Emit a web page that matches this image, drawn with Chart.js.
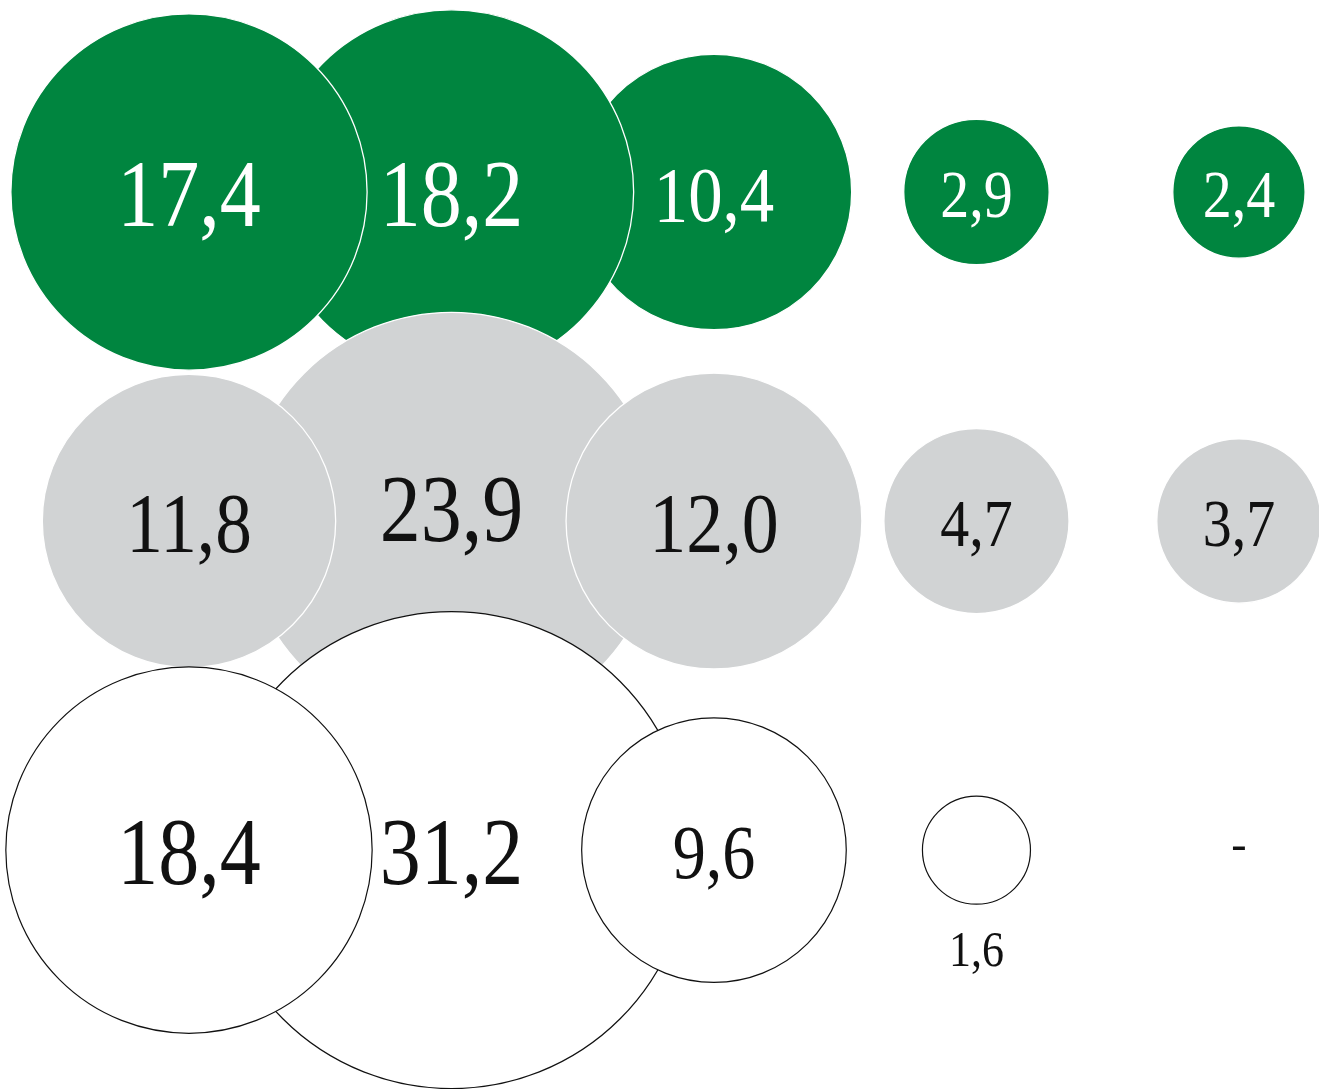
<!DOCTYPE html>
<html>
<head>
<meta charset="utf-8">
<script src="https://cdn.jsdelivr.net/npm/chart.js@4.4.1/dist/chart.umd.min.js"></script>
<style>
  html, body { margin: 0; padding: 0; background: #ffffff; overflow: hidden; }
  #wrap { position: relative; width: 1319px; height: 1089px; }
</style>
</head>
<body>
<div id="wrap"><canvas id="chart"></canvas></div>
<script>
// ---- data ----
const columns = [0, 1, 2, 3, 4];
const rows = [0, 1, 2];
const seriesGreen = [17.4, 18.2, 10.4, 2.9, 2.4];
const seriesGray  = [11.8, 23.9, 12.0, 4.7, 3.7];
const seriesWhite = [18.4, 31.2, 9.6, 1.6, null];

// ---- styling / layout (not data) ----
const RADIUS_K = 42.7;              // px per sqrt(value)
const drawOrders = [[2, 1, 0, 3, 4], [1, 0, 2, 3, 4], [1, 0, 2, 3, 4]];
const labelShift = { '1-1': -14 };  // row-col : vertical label offset (px)

function bubbleData(values, rowIdx) {
  const out = [];
  drawOrders[rowIdx].forEach(function (c) {
    const v = values[c];
    if (v === null || v === undefined) return;
    out.push({ x: columns[c], y: rows[rowIdx], r: RADIUS_K * Math.sqrt(v), v: v, col: c, row: rowIdx });
  });
  return out;
}

const fmt = function (v) { return v.toFixed(1).replace('.', ','); };
const FONT = '"Liberation Serif", "Times New Roman", serif';
const SCALE_Y = 1.15;

function drawLabel(ctx, text, x, cy, fs, color) {
  ctx.save();
  ctx.font = fs + 'px ' + FONT;
  ctx.fillStyle = color;
  ctx.textAlign = 'center';
  ctx.textBaseline = 'alphabetic';
  const h = 0.676 * fs * SCALE_Y;
  ctx.translate(x, cy + h / 2);
  ctx.scale(1, SCALE_Y);
  ctx.fillText(text, 0, 0);
  ctx.restore();
}

const labelPlugin = {
  id: 'bubbleLabels',
  afterDatasetsDraw: function (chart) {
    const ctx = chart.ctx;
    chart.data.datasets.forEach(function (ds, di) {
      const meta = chart.getDatasetMeta(di);
      meta.data.forEach(function (el, i) {
        const d = ds.data[i];
        const r = d.r;
        const key = d.row + '-' + d.col;
        const shift = (labelShift[key] || 0) + 2;
        if (r >= 60) {
          const fs = Math.max(58, Math.min(82, r * 0.5));
          drawLabel(ctx, fmt(d.v), el.x, el.y + shift, fs, ds.labelColor);
        } else {
          const fs = 44;
          const h = 0.676 * fs * SCALE_Y;
          drawLabel(ctx, fmt(d.v), el.x, el.y + r + 28 + h / 2, fs, '#111111');
        }
      });
    });
    // missing values -> dash
    const xs = chart.scales.x, ys = chart.scales.y;
    [seriesGreen, seriesGray, seriesWhite].forEach(function (arr, ri) {
      arr.forEach(function (v, c) {
        if (v === null) {
          ctx.save();
          ctx.font = '46px ' + FONT;
          ctx.fillStyle = '#111111';
          ctx.textAlign = 'center';
          ctx.textBaseline = 'alphabetic';
          ctx.fillText('-', xs.getPixelForValue(columns[c]), ys.getPixelForValue(rows[ri]) + 9);
          ctx.restore();
        }
      });
    });
  }
};

new Chart(document.getElementById('chart'), {
  type: 'bubble',
  data: {
    datasets: [
      { label: 'row1', data: bubbleData(seriesGreen, 0), backgroundColor: '#00853F', borderColor: '#ffffff', borderWidth: 1.3, order: 3, clip: false, labelColor: '#ffffff' },
      { label: 'row2', data: bubbleData(seriesGray, 1),  backgroundColor: '#D1D3D4', borderColor: '#ffffff', borderWidth: 1.3, order: 2, clip: false, labelColor: '#111111' },
      { label: 'row3', data: bubbleData(seriesWhite, 2), backgroundColor: '#ffffff', borderColor: '#111111', borderWidth: 1.2, order: 1, clip: false, labelColor: '#111111' }
    ]
  },
  options: {
    responsive: true,
    maintainAspectRatio: false,
    animation: false,
    events: [],
    layout: { padding: 0, autoPadding: false },
    plugins: { legend: { display: false }, tooltip: { enabled: false } },
    elements: { point: { hoverRadius: 0 } },
    scales: {
      x: { type: 'linear', display: false, min: -0.72, max: 4.305 },
      y: { type: 'linear', display: false, reverse: true, min: -0.5836, max: 2.726 }
    }
  },
  plugins: [labelPlugin]
});
</script>
</body>
</html>
